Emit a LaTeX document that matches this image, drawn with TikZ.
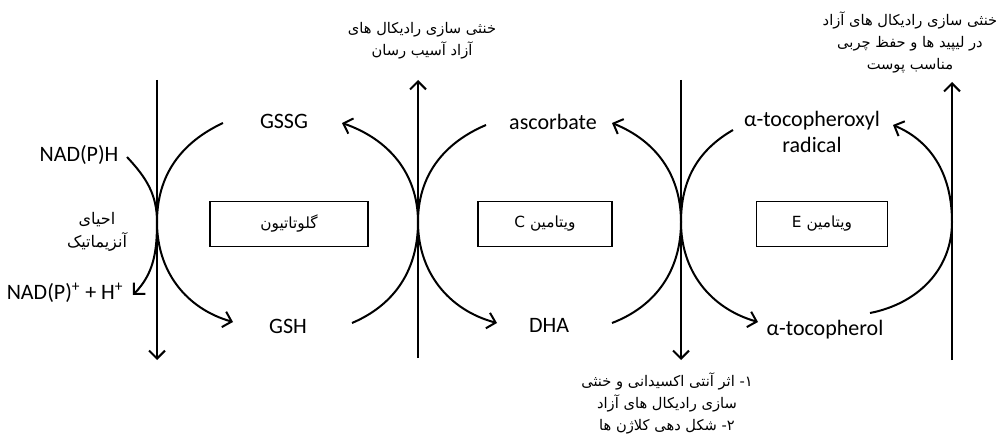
\documentclass[tikz,border=0pt]{standalone}
\usepackage{fontspec}
\setmainfont{Carlito}
\newfontfamily\persianfont[Script=Arabic]{DejaVu Sans}
\TeXXeTstate=1
\usetikzlibrary{arrows.meta, positioning}

\begin{document}
\begin{tikzpicture}[
    x=0.75pt, y=0.75pt,
    chem/.style={font=\fontsize{16.5}{19}\selectfont, inner sep=0pt, align=center},
    fa/.style={font=\persianfont\fontsize{11}{16.5}\selectfont, inner sep=0pt, align=center},
    box/.style={draw, line width=0.8pt, minimum height=33.75pt, font=\persianfont\fontsize{11.5}{12}\selectfont},
    axis/.style={line width=1.5pt, -{Straight Barb[length=6pt, width=12pt, line width=1.5pt]}},
    curve/.style={line width=1.5pt, -{Straight Barb[length=6pt, width=12pt, line width=1.5pt]}}
]
\useasboundingbox (0,0) rectangle (1001,440);

% Boxes
\node[box, minimum width=118.5pt] (glut) at (289,216) {\beginR گلوتاتیون\endR};
\node[box, minimum width=100.5pt] (vitc) at (545,216) {\beginR ویتامین C\endR};
\node[box, minimum width=98.25pt] (vite) at (822,216) {\beginR ویتامین E\endR};

% Labels
\node[chem] (nadh) at (79,285) {NAD(P)H};
\node[chem] (nadp) at (65,147) {NAD(P)\textsuperscript{+} + H\textsuperscript{+}};
\node[fa, font=\persianfont\fontsize{12}{17}\selectfont] (enz) at (97,208) {\beginR احیای\endR\\\beginR آنزیماتیک\endR};
\node[chem] (gssg) at (284,319) {GSSG};
\node[chem] (gsh) at (288,114) {GSH};
\node[chem] (asc) at (553,318) {ascorbate};
\node[chem] (dha) at (549,115) {DHA};
\node[chem] (tocrad) at (812,308) {α-tocopheroxyl\\radical};
\node[chem] (toc) at (825,110) {α-tocopherol};

\node[fa] (radtop) at (422,399) {\beginR خنثی سازی رادیکال های\endR\\\beginR آزاد آسیب رسان\endR};
\node[fa] (lipid) at (910,398) {\beginR خنثی سازی رادیکال های آزاد\endR\\\beginR در لیپید ها و حفظ چربی\endR\\\beginR مناسب پوست\endR};
\node[fa] (colla) at (667,37) {\beginR ۱- اثر آنتی اکسیدانی و خنثی\endR\\\beginR سازی رادیکال های آزاد\endR\\\beginR ۲- شکل دهی کلاژن ها\endR};

% Vertical lines
\coordinate (top1) at (157,360); \coordinate (bot1) at (157,80);
\coordinate (top2) at (418,360); \coordinate (bot2) at (418,82);
\coordinate (top3) at (681,360); \coordinate (bot3) at (681,80);
\coordinate (top4) at (952,358); \coordinate (bot4) at (952,80);
\coordinate (touch1) at (157,218);
\coordinate (touch2) at (418,218);
\coordinate (touch3) at (681,218);
\coordinate (touch4) at (952,218);

\draw[axis] (top1) -- (bot1);
\draw[axis] (bot2) -- (top2);
\draw[axis] (top3) -- (bot3);
\draw[axis] (bot4) -- (top4);

% Arc ends
\coordinate (a1s) at (127,283); \coordinate (a1e) at (133,145);
\coordinate (a2s) at (223,317); \coordinate (a2e) at (233,118);
\coordinate (a3s) at (352,117); \coordinate (a3e) at (342,317);
\coordinate (a4s) at (486,315); \coordinate (a4e) at (497,117);
\coordinate (a5s) at (612,117); \coordinate (a5e) at (612,317);
\coordinate (a6s) at (733,310); \coordinate (a6e) at (758,118);
\coordinate (a7s) at (870,127); \coordinate (a7e) at (893,315);

% Arcs
\draw[curve] (a1s) to[out=-47, in=90] (touch1) to[out=-90, in=46] (a1e);
\draw[curve] (a2s) to[out=205, in=90] (touch1) to[out=-90, in=164] (a2e);
\draw[curve] (a3s) to[out=23, in=-90] (touch2) to[out=90, in=-19] (a3e);
\draw[curve] (a4s) to[out=203, in=90] (touch2) to[out=-90, in=165] (a4e);
\draw[curve] (a5s) to[out=21, in=-90] (touch3) to[out=90, in=-22] (a5e);
\draw[curve] (a6s) to[out=210, in=90] (touch3) to[out=-90, in=164] (a6e);
\draw[curve] (a7s) to[out=11, in=-90] (touch4) to[out=90, in=-23] (a7e);

\end{tikzpicture}
\end{document}
